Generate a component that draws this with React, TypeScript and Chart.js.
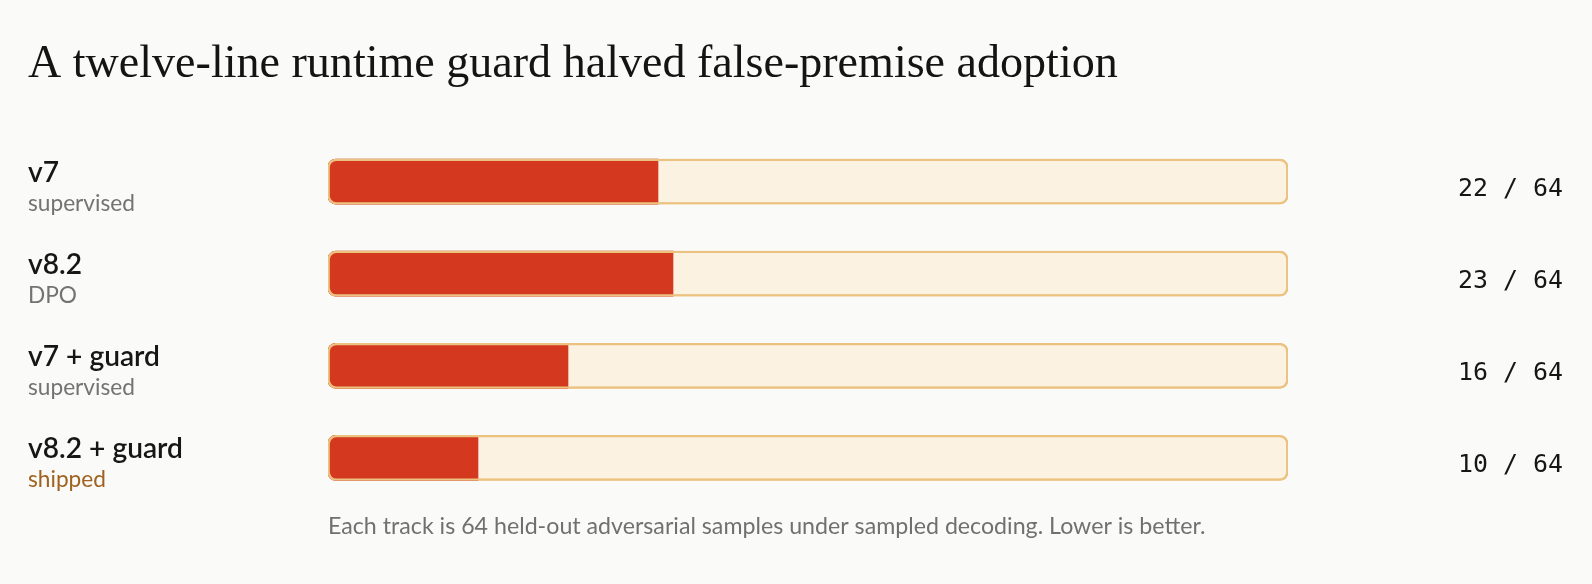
import React, { useEffect, useRef } from "react";
import { Chart, registerables } from "chart.js";

Chart.register(...registerables);

const TITLE = "A twelve-line runtime guard halved false-premise adoption";
const CATEGORIES = ["v7", "v8.2", "v7 + guard", "v8.2 + guard"];
const SUBTITLES = ["supervised", "DPO", "supervised", "shipped"];
const HIGHLIGHT = [false, false, false, true];
const ADOPTED = [22, 23, 16, 10];
const TOTAL = 64;
const TOTALS = CATEGORIES.map(() => TOTAL);
const FOOTNOTE =
  "Each track is 64 held-out adversarial samples under sampled decoding. Lower is better.";

const W = 1592;
const H = 584;

const SANS = '"Segoe UI", Lato, "Noto Sans", sans-serif';
const SERIF = 'Georgia, "Liberation Serif", serif';
const MONO = '"DejaVu Sans Mono", "Liberation Mono", monospace';

function fit(ctx: CanvasRenderingContext2D, text: string, weight: string, family: string, target: number) {
  const base = 40;
  ctx.font = `${weight} ${base}px ${family}`;
  const w = ctx.measureText(text).width;
  return (base * target) / w;
}

const textPlugin = {
  id: "textPlugin",
  beforeDraw(chart: any) {
    const ctx = chart.ctx;
    ctx.save();
    ctx.fillStyle = "#FAFAF8";
    ctx.fillRect(0, 0, chart.width, chart.height);
    ctx.restore();
  },
  afterDraw(chart: any) {
    const ctx: CanvasRenderingContext2D = chart.ctx;
    const xs = chart.scales.x;
    const ys = chart.scales.y;
    ctx.save();
    ctx.textAlign = "left";
    ctx.textBaseline = "alphabetic";

    const titleSize = fit(ctx, TITLE, "400", SERIF, 1090);
    ctx.font = `400 ${titleSize}px ${SERIF}`;
    ctx.fillStyle = "#141414";
    ctx.fillText(TITLE, 28, 77);

    const nameSize = fit(ctx, "v8.2 + guard", "600", SANS, 155);
    const subSize = fit(ctx, "supervised", "400", SANS, 107);
    const valSize = fit(ctx, "22 / 64", "400", MONO, 105);

    CATEGORIES.forEach((c, i) => {
      const cy = ys.getPixelForValue(i);
      const top = cy - 22.5;
      ctx.textAlign = "left";
      ctx.font = `600 ${nameSize}px ${SANS}`;
      ctx.fillStyle = "#161616";
      ctx.fillText(c, 28, top + 22.5);
      ctx.font = `400 ${subSize}px ${SANS}`;
      ctx.fillStyle = HIGHLIGHT[i] ? "#A0621F" : "#737373";
      ctx.fillText(SUBTITLES[i], 28, top + 51.5);

      ctx.textAlign = "right";
      ctx.font = `400 ${valSize}px ${MONO}`;
      ctx.fillStyle = "#161616";
      ctx.fillText(`${ADOPTED[i]} / ${TOTAL}`, 1563, cy + 14);
    });

    const footSize = fit(ctx, FOOTNOTE, "400", SANS, 878);
    ctx.textAlign = "left";
    ctx.font = `400 ${footSize}px ${SANS}`;
    ctx.fillStyle = "#707070";
    ctx.fillText(FOOTNOTE, xs.getPixelForValue(0), 534);
    ctx.restore();
  },
};

export default function App() {
  const ref = useRef<HTMLCanvasElement | null>(null);
  useEffect(() => {
    if (!ref.current) return;
    const chart = new Chart(ref.current, {
      type: "bar",
      data: {
        labels: CATEGORIES,
        datasets: [
          {
            label: "track",
            data: TOTALS,
            backgroundColor: "#FBF2E1",
            borderColor: "#ECC281",
            borderWidth: 2,
            borderRadius: 8,
            borderSkipped: false,
            grouped: false,
            barThickness: 45,
            order: 3,
          },
          {
            label: "adopted",
            data: ADOPTED,
            backgroundColor: "#D4381F",
            borderWidth: 0,
            borderRadius: { topLeft: 8, bottomLeft: 8, topRight: 0, bottomRight: 0 },
            borderSkipped: false,
            grouped: false,
            barThickness: 45,
            order: 2,
          },
          {
            label: "outline",
            data: TOTALS,
            backgroundColor: "rgba(0,0,0,0)",
            borderColor: "#ECC281",
            borderWidth: 1.5,
            borderRadius: 8,
            borderSkipped: false,
            grouped: false,
            barThickness: 45,
            order: 1,
          },
        ],
      },
      options: {
        indexAxis: "y",
        animation: false,
        responsive: false,
        devicePixelRatio: 1,
        events: [],
        layout: { padding: { left: 328, right: W - 1288, top: 135.5, bottom: H - 504 } },
        scales: {
          x: { display: false, min: 0, max: TOTAL },
          y: { display: false },
        },
        plugins: {
          legend: { display: false },
          tooltip: { enabled: false },
        },
      },
      plugins: [textPlugin],
    } as any);
    return () => chart.destroy();
  }, []);
  return (
    <div style={{ position: "fixed", left: 0, top: 0, width: W, height: H, background: "#FAFAF8" }}>
      <canvas ref={ref} width={W} height={H} style={{ display: "block", width: W, height: H }} />
    </div>
  );
}
